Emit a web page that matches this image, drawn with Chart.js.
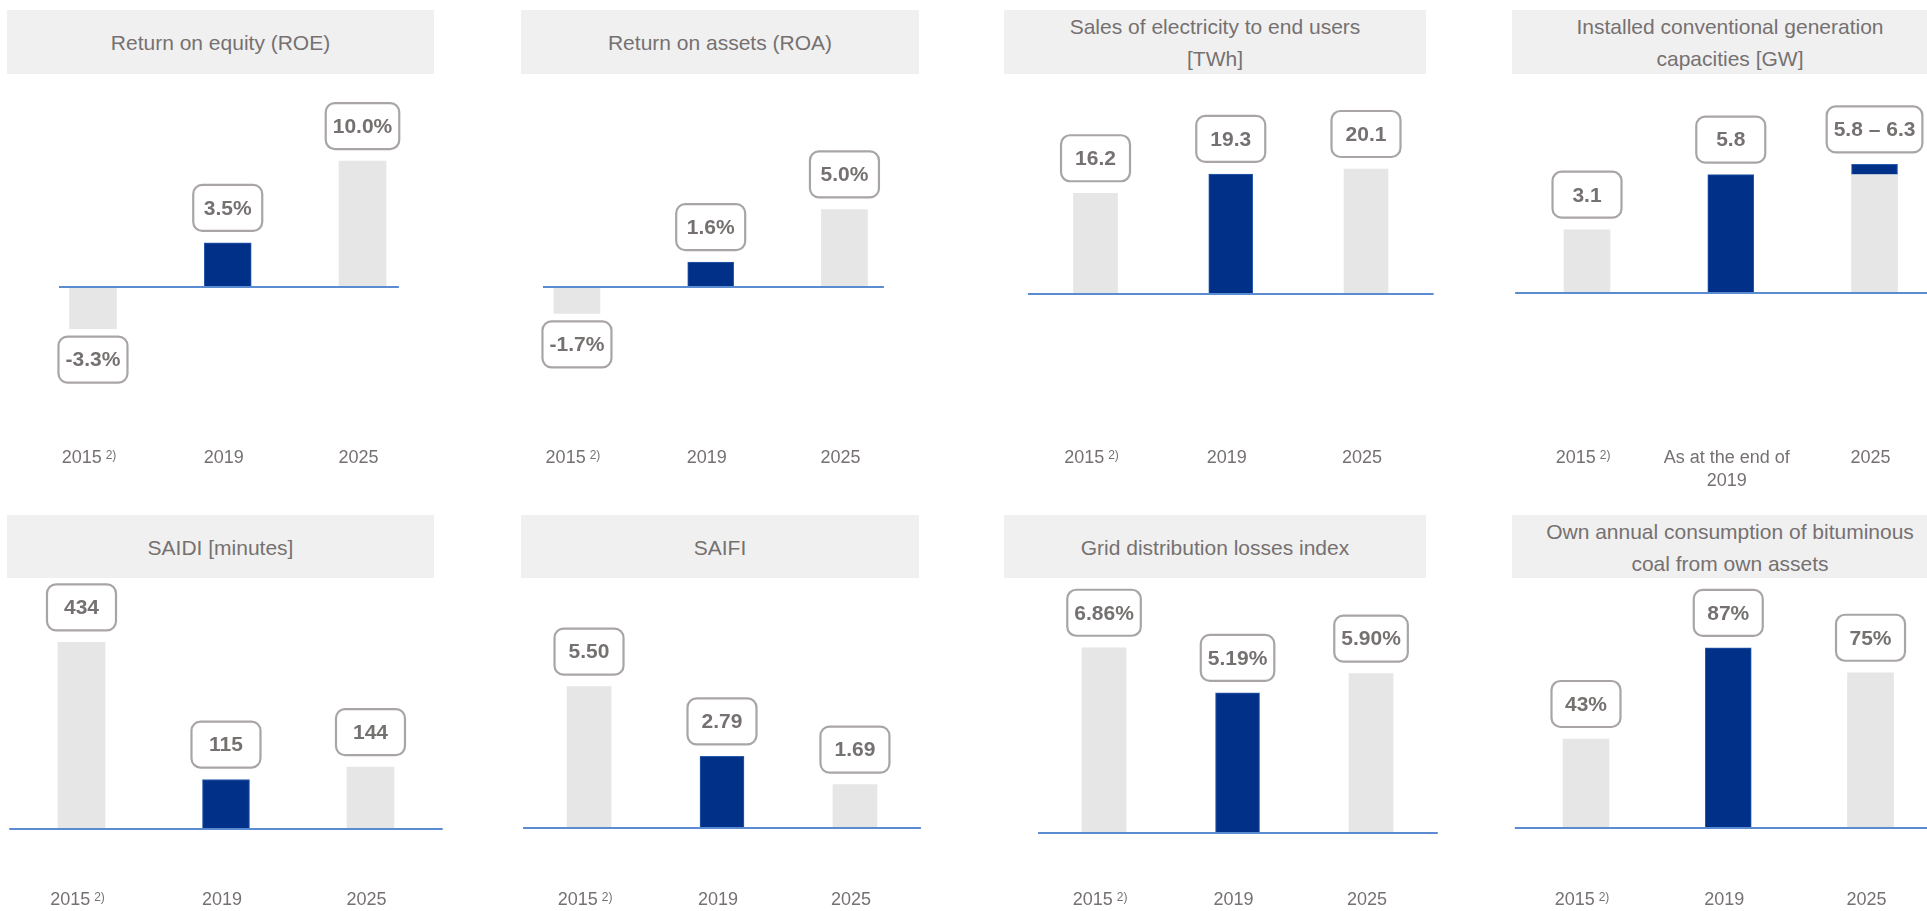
<!DOCTYPE html>
<html>
<head>
<meta charset="utf-8">
<title>Strategic targets 2025</title>
<script src="https://cdn.jsdelivr.net/npm/chart.js@4.4.1/dist/chart.umd.min.js"></script>
<style>
  body {
    margin: 0;
    width: 1927px;
    height: 911px;
    overflow: hidden;
    background: #fff;
    position: relative;
    font-family: "Liberation Sans", Arial, sans-serif;
  }
  .panel-title {
    position: absolute;
    box-sizing: border-box;
    padding-top: 2px;
    background: #f0f0f0;
    color: #767171;
    font-size: 21px;
    line-height: 32px;
    display: flex;
    flex-direction: column;
    align-items: center;
    justify-content: center;
    text-align: center;
  }
  canvas { position: absolute; }
</style>
</head>
<body>
<script>
// Categories
const years = ['2015', '2019', '2025'];
const yearsInstalled = ['2015', ['As at the end of', '2019'], '2025'];
const footnotes = ['2)', '', ''];

// Series values
const roe = [-3.3, 3.5, 10.0];
const roa = [-1.7, 1.6, 5.0];
const salesTWh = [16.2, 19.3, 20.1];
const installedGW = [3.1, 5.8, 5.8];
const installedUpsideGW = [0, 0, 0.5];
const saidiMinutes = [434, 115, 144];
const saifi = [5.50, 2.79, 1.69];
const gridLosses = [6.86, 5.19, 5.90];
const ownCoalShare = [43, 87, 75];

const NAVY = '#003087';
const NAVY_EDGE = '#2a5cad';
const GREY = '#e6e6e6';
const TEXT = '#767171';
const BOX_EDGE = '#a9a5a5';
const BASELINE = '#5b8bd0';
const HIGHLIGHT = 1;

// One entry per small chart: title box, canvas box and scale ranges
const panels = [
    { title: ['Return on equity (ROE)'], head: [7, 10, 427, 64], canvas: [0, 80, 480, 420],
      x: [-0.69, 2.872], y: [-16.9, 16.43], line: [-0.252, 2.27], bar: 47, labelY: 458,
      labels: years, values: roe, fmt: v => v.toFixed(1) + '%' },
    { title: ['Return on assets (ROA)'], head: [521, 10, 398, 64], canvas: [480, 80, 480, 420],
      x: [-0.725, 2.864], y: [-13.74, 13.35], line: [-0.254, 2.295], bar: 46, labelY: 458,
      labels: years, values: roa, fmt: v => v.toFixed(1) + '%' },
    { title: ['Sales of electricity to end users', '[TWh]'], head: [1004, 10, 422, 64], canvas: [960, 80, 487, 420],
      x: [-1.002, 2.599], y: [-33.1, 34.4], line: [-0.5, 2.5], bar: 44, labelY: 458,
      labels: years, values: salesTWh, fmt: v => v.toFixed(1) },
    { title: ['Installed conventional generation', 'capacities [GW]'], head: [1512, 10, 436, 64], canvas: [1447, 80, 480, 420],
      x: [-0.974, 2.365], y: [-10.15, 10.44], line: [-0.5, 2.6], bar: 46, labelY: 458,
      labels: yearsInstalled, values: installedGW, upside: installedUpsideGW,
      fmt: (v, up) => up > 0 ? v.toFixed(1) + ' \u2013 ' + (v + up).toFixed(1) : v.toFixed(1) },
    { title: ['SAIDI [minutes]'], head: [7, 515, 427, 63], canvas: [0, 580, 480, 331],
      x: [-0.564, 2.758], y: [-190.7, 579], line: [-0.5, 2.5], bar: 47, labelY: 900,
      labels: years, values: saidiMinutes, fmt: v => String(v) },
    { title: ['SAIFI'], head: [521, 515, 398, 63], canvas: [480, 580, 480, 331],
      x: [-0.82, 2.79], y: [-3.23, 9.65], line: [-0.496, 2.496], bar: 44, labelY: 900,
      labels: years, values: saifi, fmt: v => v.toFixed(2) },
    { title: ['Grid distribution losses index'], head: [1004, 515, 422, 63], canvas: [960, 580, 487, 331],
      x: [-1.079, 2.569], y: [-2.89, 9.37], line: [-0.494, 2.5], bar: 44, labelY: 900,
      labels: years, values: gridLosses, fmt: v => v.toFixed(2) + '%' },
    { title: ['Own annual consumption of bituminous', 'coal from own assets'], head: [1512, 515, 436, 63], canvas: [1447, 580, 480, 331],
      x: [-0.977, 2.397], y: [-40.1, 119.8], line: [-0.5, 2.6], bar: 46, labelY: 900,
      labels: years, values: ownCoalShare, fmt: v => v + '%' }
];

/**
 * Draws the zero line, value boxes and category labels of one small chart
 */
const panelDecor = {
    id: 'panelDecor',
    afterDatasetsDraw(chart, args, opts) {
        const p = opts.panel;
        const { ctx } = chart;
        const xs = chart.scales.x;
        const ys = chart.scales.y;

        ctx.save();

        // zero line
        const y0 = Math.round(ys.getPixelForValue(0));
        ctx.strokeStyle = BASELINE;
        ctx.lineWidth = 2;
        ctx.beginPath();
        ctx.moveTo(xs.getPixelForValue(p.line[0]), y0);
        ctx.lineTo(xs.getPixelForValue(p.line[1]), y0);
        ctx.stroke();

        // value boxes
        ctx.font = 'bold 21px "Liberation Sans", Arial, sans-serif';
        ctx.textAlign = 'center';
        ctx.textBaseline = 'middle';
        p.values.forEach((v, i) => {
            const up = p.upside ? p.upside[i] : 0;
            const total = v + up;
            const text = p.fmt(v, up);
            const cx = xs.getPixelForValue(i);
            const edge = ys.getPixelForValue(total);
            const w = Math.max(69, ctx.measureText(text).width + 14);
            const h = 46;
            const top = total >= 0 ? edge - 12 - h : edge + 8;

            ctx.beginPath();
            ctx.roundRect(cx - w / 2, top, w, h, 9);
            ctx.fillStyle = '#fff';
            ctx.fill();
            ctx.lineWidth = 2.2;
            ctx.strokeStyle = BOX_EDGE;
            ctx.stroke();

            ctx.fillStyle = TEXT;
            ctx.fillText(text, cx, top + h / 2 + 1);
        });

        // category labels
        const baseY = p.labelY - p.canvas[1];
        ctx.fillStyle = TEXT;
        p.labels.forEach((label, i) => {
            const cx = xs.getPixelForValue(i) - 4;
            const lines = Array.isArray(label) ? label : [label];
            ctx.font = '18px "Liberation Sans", Arial, sans-serif';
            ctx.textBaseline = 'middle';
            if (footnotes[i]) {
                const w = ctx.measureText(lines[0]).width;
                ctx.font = '12px "Liberation Sans", Arial, sans-serif';
                const wf = ctx.measureText(footnotes[i]).width;
                const start = cx - (w + 4 + wf) / 2;
                ctx.textAlign = 'left';
                ctx.textBaseline = 'top';
                ctx.fillText(footnotes[i], start + w + 4, baseY - 8);
                ctx.font = '18px "Liberation Sans", Arial, sans-serif';
                ctx.textBaseline = 'middle';
                ctx.fillText(lines[0], start, baseY);
            } else {
                ctx.textAlign = 'center';
                lines.forEach((line, k) => ctx.fillText(line, cx, baseY + k * 23));
            }
        });

        ctx.restore();
    }
};

function buildDatasets(p) {
    const sets = [{
        data: p.values.map((v, i) => ({ x: i, y: v })),
        backgroundColor: p.values.map((v, i) => i === HIGHLIGHT ? NAVY : GREY),
        borderColor: p.values.map((v, i) => i === HIGHLIGHT ? NAVY_EDGE : GREY),
        borderWidth: p.values.map((v, i) => i === HIGHLIGHT ? 1 : 0),
        barThickness: p.bar
    }];
    if (p.upside) {
        sets.push({
            data: p.upside.map((v, i) => ({ x: i, y: v })),
            backgroundColor: NAVY,
            borderColor: NAVY_EDGE,
            borderWidth: 1,
            borderSkipped: false,
            barThickness: p.bar
        });
    }
    return sets;
}

panels.forEach(p => {
    // title box
    const head = document.createElement('div');
    head.className = 'panel-title';
    head.style.left = p.head[0] + 'px';
    head.style.top = p.head[1] + 'px';
    head.style.width = p.head[2] + 'px';
    head.style.height = p.head[3] + 'px';
    p.title.forEach(line => {
        const span = document.createElement('div');
        span.textContent = line;
        head.appendChild(span);
    });
    document.body.appendChild(head);

    // chart canvas
    const canvas = document.createElement('canvas');
    canvas.width = p.canvas[2];
    canvas.height = p.canvas[3];
    canvas.style.left = p.canvas[0] + 'px';
    canvas.style.top = p.canvas[1] + 'px';
    document.body.appendChild(canvas);

    new Chart(canvas, {
        type: 'bar',
        data: { datasets: buildDatasets(p) },
        options: {
            responsive: false,
            animation: false,
            devicePixelRatio: 1,
            layout: { padding: 0 },
            plugins: {
                legend: { display: false },
                tooltip: { enabled: false },
                panelDecor: { panel: p }
            },
            scales: {
                x: { type: 'linear', offset: false, min: p.x[0], max: p.x[1], stacked: true, display: false },
                y: { min: p.y[0], max: p.y[1], stacked: true, display: false }
            }
        },
        plugins: [panelDecor]
    });
});
</script>
</body>
</html>
